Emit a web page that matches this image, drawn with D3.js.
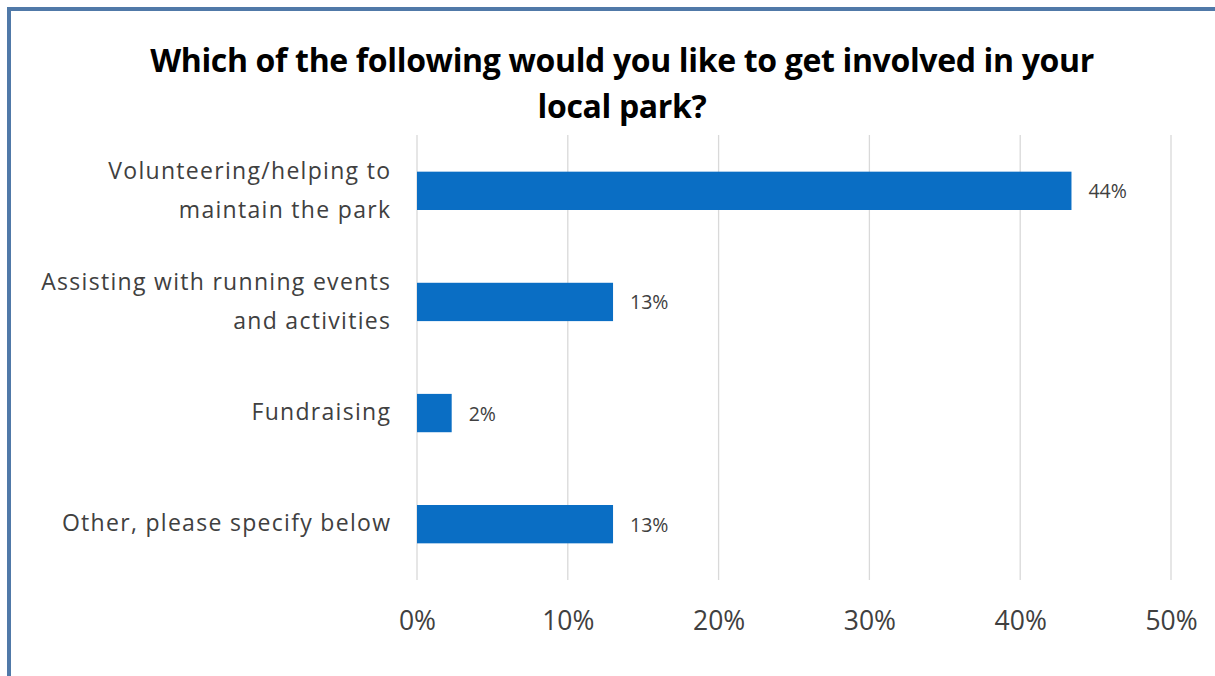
<!DOCTYPE html>
<html><head><meta charset="utf-8">
<script src="https://cdn.jsdelivr.net/npm/d3@7"></script>
<style>body{margin:0;background:#fff}svg{display:block}</style>
</head><body>
<svg id="c" width="1215" height="676"></svg>
<script>
const categories = [
  ["Volunteering/helping to", "maintain the park"],
  ["Assisting with running events", "and activities"],
  ["Fundraising"],
  ["Other, please specify below"]
];
const values = [43.4, 13.0, 2.3, 13.0];
const valueLabels = ["44%", "13%", "2%", "13%"];
const ticks = [0, 10, 20, 30, 40, 50];
const titleLines = ["Which of the following would you like to get involved in your", "local park?"];

const svg = d3.select("#c");
const font = "'Open Sans', sans-serif";
// frame
svg.append("rect").attr("x",0).attr("y",0).attr("width",1215).attr("height",676).attr("fill","#fff");
svg.append("rect").attr("x",9).attr("y",9).attr("width",1215).attr("height",700)
  .attr("fill","none").attr("stroke","#5079a8").attr("stroke-width",4);

const x = d3.scaleLinear().domain([0,50]).range([417,1171]);
const y = d3.scaleBand().domain(d3.range(categories.length)).range([135,580]).paddingInner(0.655).paddingOuter(0.33);

// gridlines
svg.append("g").selectAll("line").data(ticks).join("line")
  .attr("x1",d=>x(d)).attr("x2",d=>x(d)).attr("y1",135).attr("y2",580)
  .attr("stroke","#d9d9d9").attr("stroke-width",1.3);

// x axis labels
const ax = svg.append("g").attr("transform","translate(0,630)")
  .call(d3.axisBottom(x).tickValues(ticks).tickFormat(d=>d+"%").tickSize(0).tickPadding(0));
ax.select(".domain").remove();
ax.selectAll("text").attr("font-family",font).attr("font-size",26.5).attr("fill","#404040").attr("dy",0);

// bars
svg.append("g").selectAll("rect").data(values).join("rect")
  .attr("x",x(0)).attr("y",(d,i)=>y(i)).attr("width",d=>x(d)-x(0)).attr("height",y.bandwidth())
  .attr("fill","#0a6ec4");

// value labels
svg.append("g").selectAll("text").data(values).join("text")
  .attr("x",d=>x(d)+17).attr("y",(d,i)=>y(i)+y.bandwidth()/2+7.5)
  .attr("font-family",font).attr("font-size",19.5).attr("fill","#404040")
  .text((d,i)=>valueLabels[i]);

// category labels
const cl = svg.append("g").selectAll("text").data(categories).join("text")
  .attr("x",391.3).attr("y",(d,i)=>y(i)+y.bandwidth()/2)
  .attr("text-anchor","end").attr("font-family",font).attr("font-size",23)
  .attr("letter-spacing","1.3px").attr("fill","#404040");
cl.each(function(lines){
  const t = d3.select(this);
  const n = lines.length;
  const y0 = +t.attr("y");
  lines.forEach((l,j)=>{
    t.append("tspan").attr("x",391.3).attr("y", n===1 ? y0+7 : y0-11.5+j*39).text(l);
  });
});

// title
svg.append("g").selectAll("text").data(titleLines).join("text")
  .attr("x",622).attr("y",(d,i)=>72+i*46).attr("text-anchor","middle")
  .attr("font-family",font).attr("font-weight","bold").attr("font-size",32)
  .attr("letter-spacing","-0.35px").attr("fill","#000")
  .text(d=>d);
</script>
</body></html>
